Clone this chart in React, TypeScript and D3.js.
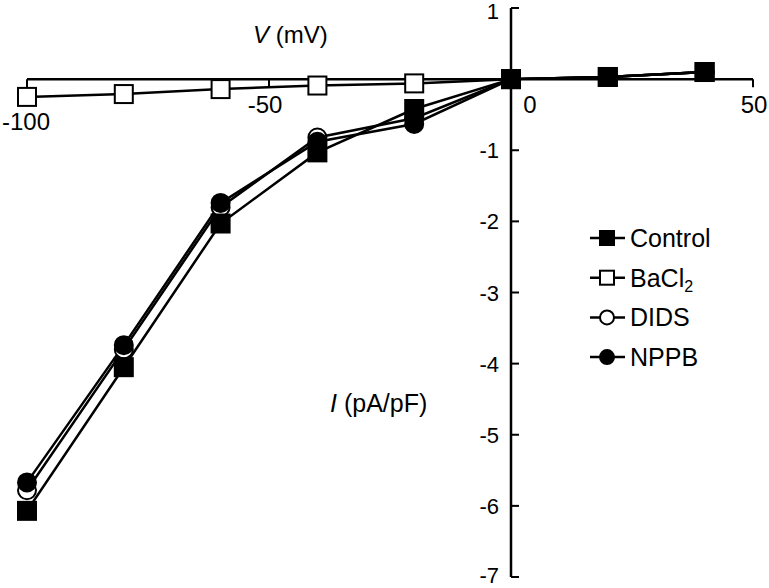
import React from 'react';
import * as d3 from 'd3';

const voltages = [-100, -80, -60, -40, -20, 0, 20, 40];
const controlI = [-6.07, -4.05, -2.03, -1.03, -0.42, 0, 0.03, 0.1];
const bacl2I = [-0.25, -0.21, -0.14, -0.09, -0.06, 0, 0.03, 0.1];
const didsI = [-5.78, -3.8, -1.8, -0.82, -0.55, 0, 0.03, 0.1];
const nppbI = [-5.67, -3.74, -1.74, -0.88, -0.63, 0, 0.03, 0.1];
const xTicks = [-100, -50, 0, 50];
const yTicks = [1, 0, -1, -2, -3, -4, -5, -6, -7];

type Marker = 'fsq' | 'osq' | 'ocirc' | 'fcirc';
const seriesList: { name: string; values: number[]; marker: Marker }[] = [
  { name: 'BaCl2', values: bacl2I, marker: 'osq' },
  { name: 'DIDS', values: didsI, marker: 'ocirc' },
  { name: 'NPPB', values: nppbI, marker: 'fcirc' },
  { name: 'Control', values: controlI, marker: 'fsq' },
];
const legendOrder: { name: string; marker: Marker }[] = [
  { name: 'Control', marker: 'fsq' },
  { name: 'BaCl2', marker: 'osq' },
  { name: 'DIDS', marker: 'ocirc' },
  { name: 'NPPB', marker: 'fcirc' },
];

const font = '"Liberation Sans", Arial, sans-serif';

function MarkerShape({ m, cx, cy, s }: { m: Marker; cx: number; cy: number; s: number }) {
  const fill = m === 'fsq' || m === 'fcirc' ? '#000' : '#fff';
  if (m === 'fsq' || m === 'osq') {
    return <rect x={cx - s / 2} y={cy - s / 2} width={s} height={s} fill={fill} stroke="#000" strokeWidth={2} />;
  }
  return <circle cx={cx} cy={cy} r={s / 2} fill={fill} stroke="#000" strokeWidth={2} />;
}

export default function App() {
  const x = d3.scaleLinear().domain([-100, 50]).range([27, 753]);
  const y = d3.scaleLinear().domain([1, -7]).range([8, 577]);
  const x0 = x(0);
  const y0 = y(0);
  const line = d3
    .line<number>()
    .x((_, i) => x(voltages[i]))
    .y((d) => y(d));

  const xLabelPos = (t: number) => {
    if (t === -100) return { x: x(t) - 1, y: y0 + 51 };
    if (t === 0) return { x: x(t) + 19, y: y0 + 34 };
    if (t === 50) return { x: x(t) + 1, y: y0 + 34 };
    return { x: x(t) - 4, y: y0 + 34 };
  };

  return (
    <svg width={769} height={588} style={{ position: 'absolute', left: 0, top: 0, background: '#fff' }}>
      <rect width={769} height={588} fill="#fff" />
      {/* x axis */}
      <line x1={x(-100)} x2={x(50)} y1={y0} y2={y0} stroke="#000" strokeWidth={2.5} />
      {xTicks.map((t) => (
        <line key={'xt' + t} x1={x(t)} x2={x(t)} y1={y0} y2={y0 + 8} stroke="#000" strokeWidth={2} />
      ))}
      {xTicks.map((t) => {
        const p = xLabelPos(t);
        return (
          <text key={'xl' + t} x={p.x} y={p.y} textAnchor="middle" fontFamily={font} fontSize={24} fill="#000">
            {t}
          </text>
        );
      })}
      {/* y axis */}
      <line x1={x0} x2={x0} y1={y(1)} y2={y(-7)} stroke="#000" strokeWidth={2.5} />
      {yTicks.map((t) => (
        <line key={'yt' + t} x1={x0} x2={x0 + 8} y1={y(t)} y2={y(t)} stroke="#000" strokeWidth={2} />
      ))}
      {yTicks
        .filter((t) => t !== 0)
        .map((t) => (
          <text
            key={'yl' + t}
            x={x0 - 12}
            y={t === 1 ? y(t) + 11 : t === -7 ? y(t) + 6 : y(t) + 8}
            textAnchor="end"
            fontFamily={font}
            fontSize={22}
            fill="#000"
          >
            {t}
          </text>
        ))}
      {/* axis titles */}
      <text x={253} y={43} fontFamily={font} fontSize={24} fill="#000">
        <tspan fontStyle="italic">V</tspan> (mV)
      </text>
      <text x={330} y={412} fontFamily={font} fontSize={25} fill="#000">
        <tspan fontStyle="italic">I</tspan> (pA/pF)
      </text>
      {/* series lines */}
      {seriesList.map((s) => (
        <path key={'l' + s.name} d={line(s.values) || ''} fill="none" stroke="#000" strokeWidth={2.5} />
      ))}
      {/* series markers */}
      {seriesList.map((s) => (
        <g key={'m' + s.name}>
          {s.values.map((v, i) => (
            <MarkerShape key={i} m={s.marker} cx={x(voltages[i])} cy={y(v)} s={18} />
          ))}
        </g>
      ))}
      {/* legend */}
      {legendOrder.map((l, i) => {
        const ly = 238 + i * 39.7;
        return (
          <g key={'lg' + l.name}>
            <line x1={590} x2={625} y1={ly} y2={ly} stroke="#000" strokeWidth={2.5} />
            <MarkerShape m={l.marker} cx={607} cy={ly} s={14} />
            <text x={630} y={ly + 9} fontFamily={font} fontSize={25} fill="#000">
              {l.name === 'BaCl2' ? (
                <>
                  BaCl<tspan fontSize={16} dy={5}>2</tspan>
                </>
              ) : (
                l.name
              )}
            </text>
          </g>
        );
      })}
    </svg>
  );
}
